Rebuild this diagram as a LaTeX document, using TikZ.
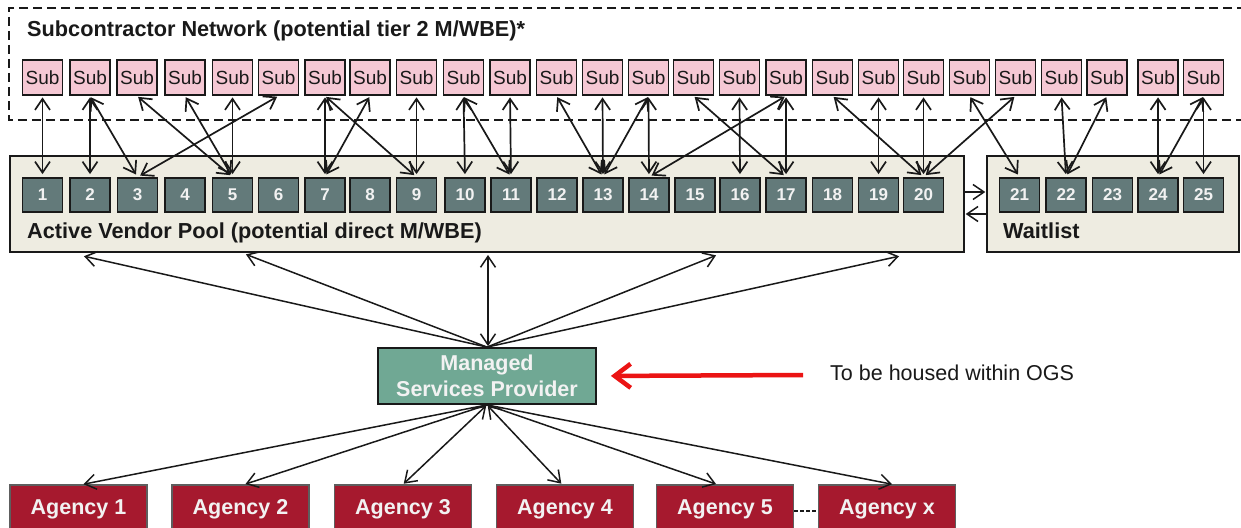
\documentclass[tikz,border=0pt]{standalone}
\usepackage{fontspec}
\setmainfont{Liberation Sans}
\usetikzlibrary{arrows.meta}
\definecolor{subpink}{RGB}{245,200,212}
\definecolor{vend}{RGB}{99,122,122}
\definecolor{poolbg}{RGB}{238,236,225}
\definecolor{mspgreen}{RGB}{112,168,148}
\definecolor{agred}{RGB}{166,25,46}
\definecolor{redarrow}{RGB}{235,20,20}
\definecolor{ink}{RGB}{25,25,25}
\definecolor{paletext}{RGB}{242,242,242}
\begin{document}
\begin{tikzpicture}[x=1pt,y=-1pt,
  subbox/.style={draw=ink, line width=1.8pt, fill=subpink, minimum width=40pt, minimum height=35pt, inner sep=0pt, font=\fontsize{19}{21}\selectfont, text=ink},
  vbox/.style={draw=ink, line width=1.8pt, fill=vend, minimum width=40pt, minimum height=34pt, inner sep=0pt, font=\fontsize{17}{19}\selectfont\bfseries, text=paletext},
  poolbox/.style={draw=ink, line width=1.4pt, fill=poolbg, inner sep=0pt},
  lbl/.style={font=\fontsize{21.7}{24}\selectfont\bfseries, inner sep=0pt, anchor=base west, text=ink},
  mspbox/.style={draw=ink, line width=1.8pt, fill=mspgreen, minimum width=218pt, minimum height=56pt, inner sep=0pt, align=center, font=\fontsize{21.5}{26}\selectfont\bfseries, text=paletext},
  agbox/.style={draw=ink!70, line width=1.2pt, fill=agred, minimum width=137pt, minimum height=48pt, inner sep=0pt, font=\fontsize{21.5}{24}\selectfont\bfseries, text=paletext},
  tipk/.tip={Straight Barb[length=11pt,width=15pt]},
  biarr/.style={draw=ink, line width=1.7pt, tipk-tipk, shorten <=1.5pt, shorten >=3pt},
  onearr/.style={draw=ink, line width=1.5pt, -tipk, shorten >=1pt},
  twoarr/.style={draw=ink, line width=1.5pt, tipk-tipk, shorten >=1pt, shorten <=1pt}
]
\useasboundingbox (0,0) rectangle (1241,527);
\fill[white] (0,0) rectangle (1241,527);

% subcontractor network
\draw[ink, line width=1.6pt, dash pattern=on 9pt off 5pt] (1260,8) -- (9,8) -- (9,120) -- (1260,120);
\node[lbl] (title) at (27,36.5) {Subcontractor Network (potential tier 2 M/WBE)*};
\foreach \x [count=\i] in {42.5,90,137,185,232.5,278.5,325,370,416.5,463.5,510,556.5,602.5,648.5,693.5,739.5,786,832.5,878.5,923.5,969.5,1015.5,1061.5,1107,1158,1203.5}
  \node[subbox] (s\i) at (\x,77.5) {Sub};

% pools
\node[poolbox, minimum width=954pt, minimum height=96pt] (pool) at (487,204) {};
\node[poolbox, minimum width=252pt, minimum height=96pt] (wait) at (1113,204) {};
\node[lbl] (poollbl) at (27,238.3) {Active Vendor Pool (potential direct M/WBE)};
\node[lbl] (waitlbl) at (1003,238.3) {Waitlist};
\foreach \x [count=\i] in {42.5,90,137.5,185,232.5,278.5,325,370,416.5,465,511,557,603,649,695,740,786,832.5,878.5,923.5,1019.5,1066,1112.5,1158,1203.5}
  \node[vbox] (v\i) at (\x,195) {\i};

% sub <-> vendor
\foreach \a/\b in {1/1,2/2,2/3,3/5,4/5,5/5,6/3,7/7,7/9,8/7,9/9,10/10,10/11,11/11,12/13,13/13,14/13,14/14,15/17,16/16,17/14,17/17,18/20,19/19,20/20,21/21,22/20,23/22,24/22,25/24,26/24,26/25}
  \draw[biarr] (s\a.south) -- (v\b.north);

% pool <-> waitlist
\draw[onearr] ([yshift=12pt]pool.east) -- ([yshift=12pt]wait.west);
\draw[onearr] ([yshift=-10pt]wait.west) -- ([yshift=-10pt]pool.east);

% MSP
\node[mspbox] (msp) at (487,376) {Managed\\Services Provider};
\coordinate (p1) at (83,256);
\coordinate (p2) at (245,254);
\coordinate (p3) at (488,254);
\coordinate (p4) at (717,255);
\coordinate (p5) at (900,256);
\draw[onearr] (msp.north) -- (p1);
\draw[onearr] (msp.north) -- (p2);
\draw[twoarr] ([xshift=1pt]msp.north) -- (p3);
\draw[onearr] (msp.north) -- (p4);
\draw[onearr] (msp.north) -- (p5);

% red arrow and note
\node[font=\fontsize{21.5}{24}\selectfont, inner sep=0pt, anchor=base west, text=ink] (ogs) at (830,380) {To be housed within OGS};
\coordinate (redstart) at (803,375);
\draw[redarrow, line width=4.5pt, -{Straight Barb[length=16pt,width=24pt]}, shorten >=14pt] (redstart) -- (msp.east);

% agencies
\node[agbox] (a1) at (78.5,509) {Agency 1};
\node[agbox] (a2) at (240.5,509) {Agency 2};
\node[agbox] (a3) at (403,509) {Agency 3};
\node[agbox] (a4) at (565,509) {Agency 4};
\node[agbox] (a5) at (725,509) {Agency 5};
\node[agbox] (ax) at (887,509) {Agency x};
\draw[ink, line width=1.3pt, dash pattern=on 4pt off 2pt] ([yshift=-2pt]a5.east) -- ([yshift=-2pt]ax.west);
\draw[onearr] (msp.south) -- ([xshift=4pt]a1.north);
\draw[onearr] (msp.south) -- ([xshift=4pt]a2.north);
\draw[twoarr] (msp.south) -- (a3.north);
\draw[twoarr] (msp.south) -- ([xshift=-3pt]a4.north);
\draw[onearr] (msp.south) -- ([xshift=-8pt]a5.north);
\draw[onearr] (msp.south) -- ([xshift=6pt]ax.north);
\end{tikzpicture}
\end{document}
